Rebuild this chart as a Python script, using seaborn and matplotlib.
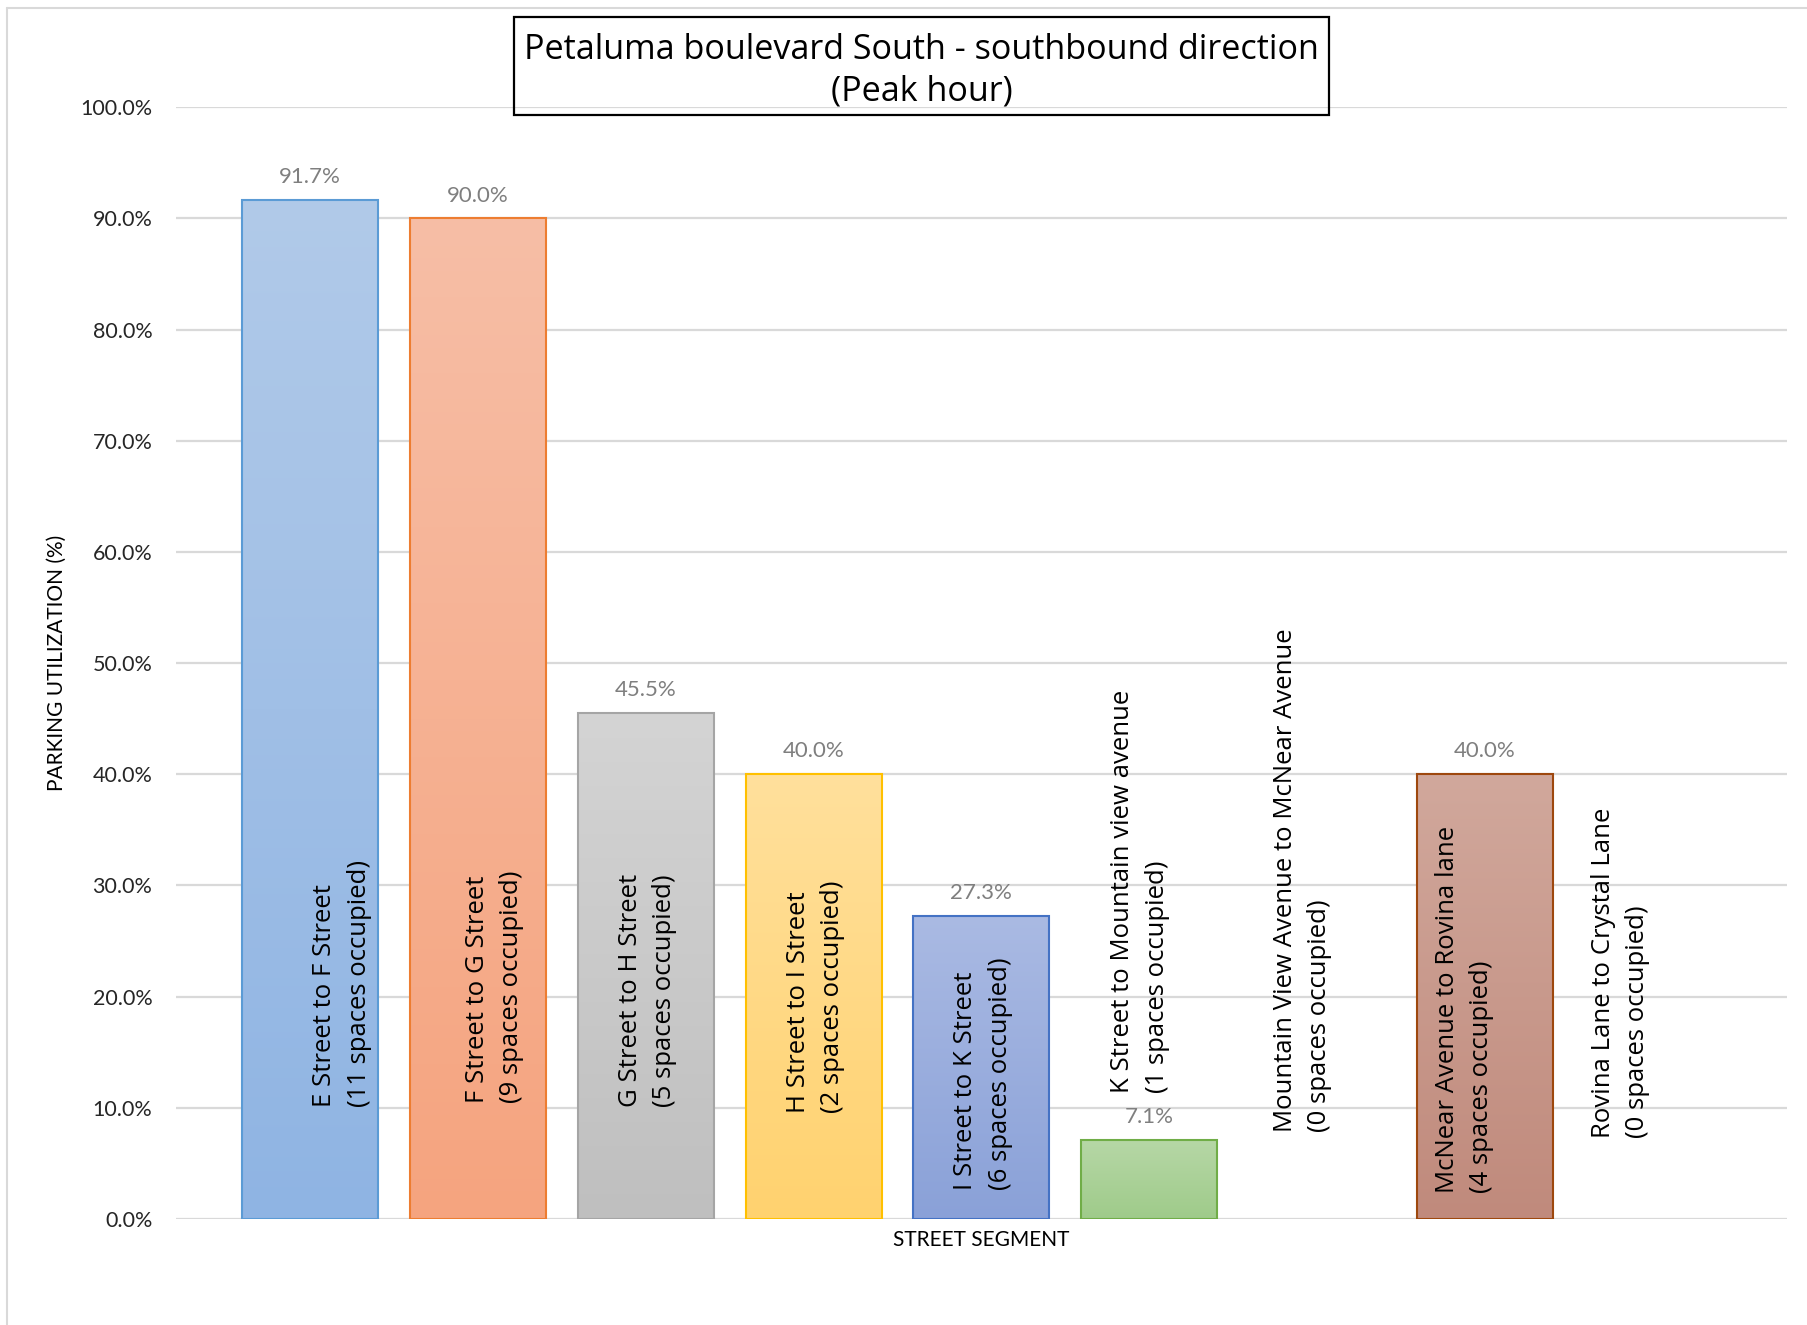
import numpy as np
import pandas as pd
import matplotlib
matplotlib.use("Agg")
import matplotlib.pyplot as plt
import seaborn as sns
from matplotlib.ticker import FuncFormatter
from matplotlib.colors import to_rgb
from matplotlib.patches import Rectangle
from matplotlib.lines import Line2D

# ---------------- data ----------------
segments = [
    "E Street to F Street\n(11 spaces occupied)",
    "F Street to G Street\n(9 spaces occupied)",
    "G Street to H Street\n(5 spaces occupied)",
    "H Street to I Street\n(2 spaces occupied)",
    "I Street to K Street\n(6 spaces occupied)",
    "K Street to Mountain view avenue\n(1 spaces occupied)",
    "Mountain View Avenue to McNear Avenue\n(0 spaces occupied)",
    "McNear Avenue to Rovina lane\n(4 spaces occupied)",
    "Rovina Lane to Crystal Lane\n(0 spaces occupied)",
]
utilization = [91.7, 90.0, 45.5, 40.0, 27.3, 7.1, 0.0, 40.0, 0.0]
value_labels = ["91.7%", "90.0%", "45.5%", "40.0%", "27.3%", "7.1%", "", "40.0%", ""]
y_ticks = [0, 10, 20, 30, 40, 50, 60, 70, 80, 90, 100]
title_text = "Petaluma boulevard South - southbound direction\n(Peak hour)"
y_title = "PARKING UTILIZATION (%)"
x_title = "STREET SEGMENT"

# ---------------- styles ----------------
edge_colors = ["#5b9bd5", "#ed7d31", "#a5a5a5", "#ffc000", "#4472c4",
               "#70ad47", "#264478", "#9e480e", "#636363"]
top_colors = ["#b1cae9", "#f7bea6", "#d4d4d4", "#ffe09c", "#aabae3",
              "#b6d7a6", "#8fa3c8", "#d1a89c", "#b0b0b0"]
bottom_colors = ["#8fb4e3", "#f5a47f", "#bfbfbf", "#ffd26f", "#8aa1d8",
                 "#9fcb8a", "#7088b8", "#c08a7c", "#9a9a9a"]
# label anchor: start (bottom) of rotated text in % units, horizontal shift in category units
label_base = [10.1, 10.4, 10.1, 9.5, 2.6, 11.3, 7.8, 2.3, 7.3]
label_dx = [0.19, 0.10, 0.01, 0.01, 0.01, -0.055, -0.085, -0.12, -0.19]

sns.set_theme(style="white")
plt.rcParams["font.family"] = ["Open Sans", "DejaVu Sans"]

fig = plt.figure(figsize=(18.08, 13.25), dpi=100)
ax = fig.add_axes([0.0973, 0.080, 0.891, 0.839])

df = pd.DataFrame({"segment": segments, "utilization": utilization})
sns.barplot(data=df, x="segment", y="utilization", hue="segment",
            palette=bottom_colors, legend=False, width=0.81, saturation=1,
            ax=ax, zorder=3)

patches = sorted(ax.patches, key=lambda p: p.get_x())
for i, p in enumerate(patches):
    x0, y0, w, h = p.get_x(), p.get_y(), p.get_width(), p.get_height()
    p.set_edgecolor(edge_colors[i])
    p.set_linewidth(1.5)
    if h > 0:
        c0 = np.array(to_rgb(bottom_colors[i]))
        c1 = np.array(to_rgb(top_colors[i]))
        t = np.linspace(0, 1, 256)[:, None]
        grad = (c0[None, :] * (1 - t) + c1[None, :] * t)[:, None, :]
        im = ax.imshow(grad, extent=[x0, x0 + w, y0, y0 + h], origin="lower",
                       aspect="auto", zorder=2.5, interpolation="bilinear")
        im.set_clip_path(p)
        p.set_facecolor("none")
    else:
        p.set_visible(False)

# value labels
for i, p in enumerate(patches):
    if value_labels[i]:
        ax.annotate(value_labels[i], (p.get_x() + p.get_width() / 2, p.get_height()),
                    xytext=(0, 16.5), textcoords="offset points", ha="center", va="center",
                    fontsize=16, color="#7f7f7f", family=["Lato", "DejaVu Sans"], zorder=5)

# category labels (rotated, inside/above bars)
for i, p in enumerate(patches):
    cx = p.get_x() + p.get_width() / 2 + label_dx[i]
    ax.text(cx, label_base[i], segments[i], rotation=90, rotation_mode="anchor",
            ha="left", va="center", multialignment="left", fontsize=18.5,
            color="#000000", linespacing=1.5, zorder=6)

ax.set_xlim(-0.8, 8.8)
ax.set_ylim(0, 100)
ax.set_yticks(y_ticks)
ax.yaxis.set_major_formatter(FuncFormatter(lambda v, _: f"{v:.1f}%"))
ax.set_xticks([])
ax.tick_params(axis="y", length=0, pad=17, labelsize=15.5, labelcolor="#262626")
for lab in ax.get_yticklabels():
    lab.set_family(["Lato", "DejaVu Sans"])
ax.grid(axis="y", color="#d9d9d9", linewidth=1.6, zorder=0)
ax.set_axisbelow(True)
for s in ax.spines.values():
    s.set_visible(False)

ax.set_ylabel(y_title, fontsize=15, color="#000000", family=["Lato", "DejaVu Sans"])
ax.yaxis.set_label_coords(-0.0677, 0.5)
ax.set_xlabel(x_title, fontsize=15, color="#000000", family=["Lato", "DejaVu Sans"])
ax.xaxis.set_label_coords(0.5, -0.010)

# title with box
W, H = 1808, 1325
fig.add_artist(Rectangle((514 / W, 1 - 115 / H), (1329 - 514) / W, (115 - 17) / H,
                         transform=fig.transFigure, fill=False, edgecolor="black",
                         linewidth=1.6))
fig.text(921.5 / W, 1 - 71 / H, title_text, ha="center", va="center",
         fontsize=24.6, color="#000000", linespacing=1.28)

# chart border (left/top)
fig.add_artist(Line2D([7 / W, 7 / W], [0, 1 - 8 / H], transform=fig.transFigure,
                      color="#d9d9d9", linewidth=1.5))
fig.add_artist(Line2D([7 / W, 1], [1 - 8 / H, 1 - 8 / H], transform=fig.transFigure,
                      color="#d9d9d9", linewidth=1.5))

fig.savefig("out.png", dpi=100)
